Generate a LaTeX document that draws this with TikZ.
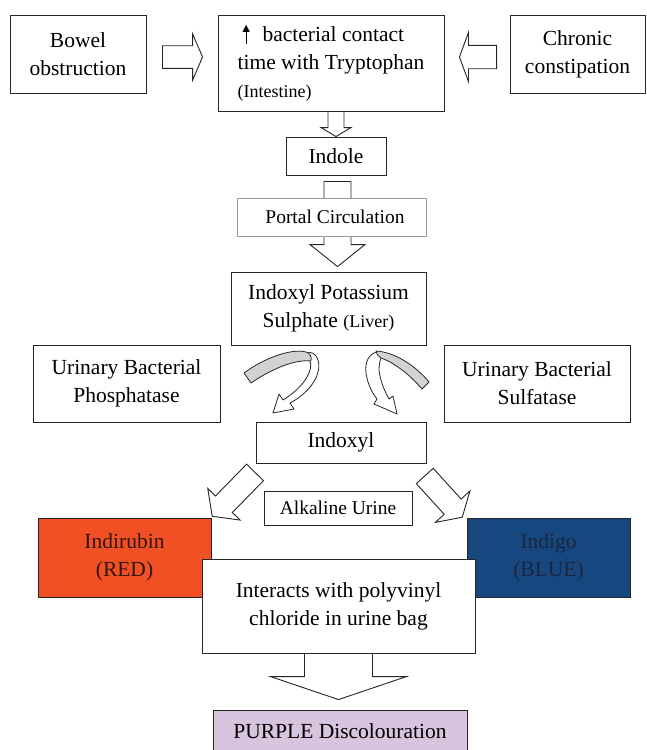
\documentclass[tikz,border=0pt]{standalone}
\usepackage{fontspec}
\setmainfont{Liberation Serif}
\usepackage{xcolor}
\usetikzlibrary{calc,arrows.meta}

\definecolor{redbox}{RGB}{240,80,35}
\definecolor{redtext}{RGB}{50,22,12}
\definecolor{bluebox}{RGB}{23,71,127}
\definecolor{bluetext}{RGB}{28,38,62}
\definecolor{purplebox}{RGB}{216,196,222}
\definecolor{bandgray}{RGB}{210,210,210}

\newcommand{\notefont}{\fontsize{18}{22}\selectfont}
\newcommand{\portalfont}{\fontsize{19.5}{24}\selectfont}
\newcommand{\incarrow}{\tikz[baseline=0pt]\draw[line width=1.2pt,-{Triangle[length=7pt,width=7pt]}] (0pt,-2pt) -- (0pt,17pt);}

\tikzset{
  box/.style={draw=black!85, line width=0.9pt, fill=white, inner sep=0pt, align=center,
    font=\fontsize{21.5}{28}\selectfont},
  ribbon/.style={draw=black!85, line width=0.8pt, line join=round},
  % hollow block arrow: shaft half width, head half width, head length
  fat/.style n args={3}{draw=black!85, fill=white, line width=0.9pt,
    to path={let \p1=(\tikztostart), \p2=(\tikztotarget),
      \p3=($(\p2)!#3pt!(\p1)$) in
      ($(\p1)!#1pt!90:(\p2)$) -- ($(\p3)!#1pt!90:(\p2)$) -- ($(\p3)!#2pt!90:(\p2)$)
      -- (\p2) -- ($(\p3)!#2pt!-90:(\p2)$) -- ($(\p3)!#1pt!-90:(\p2)$)
      -- ($(\p1)!#1pt!-90:(\p2)$) -- cycle}}
}

\begin{document}
\begin{tikzpicture}[x=1pt,y=-1pt]
  \useasboundingbox (0,0) rectangle (646,750);

  % Top row
  \node[box, minimum width=136, minimum height=78] (bowel) at (78,54) {Bowel\\obstruction};
  \node[box, minimum width=226, minimum height=96, align=left] (contact) at (331,63)
    {\hspace*{5pt}\incarrow\hspace{13pt}bacterial contact\\time with Tryptophan\\{\notefont (Intestine)}};
  \node[box, minimum width=135, minimum height=78] (chronic) at (577.5,54) {Chronic\\constipation};

  \draw[fat={11.3}{23.3}{10}] ($(bowel.east)+(16,3)$) to ($(contact.west)+(-15,-6)$);
  \draw[fat={11.7}{24.5}{9}] ($(chronic.west)+(-13,3)$) to ($(contact.east)+(15,-6)$);

  % Intestine to liver
  \node[box, minimum width=100, minimum height=38] (indole) at (336,156) {Indole};
  \draw[fat={8}{15}{9}] (contact.south -| indole.north) to (indole.north);
  \node[box, minimum width=195, minimum height=73] (ips) at (328.5,308.5)
    {Indoxyl Potassium\\Sulphate {\notefont (Liver)}};
  \draw[fat={13.5}{27.5}{22}] ($(indole.south)+(1.5,6)$) to ($(ips.north -| indole.south)+(1.5,-5)$);
  \node[box, draw=black!40, line width=0.7pt, minimum width=189, minimum height=38, font=\portalfont]
    (portal) at (331.5,217) {\hspace*{7pt}Portal Circulation};

  % Enzymes
  \node[box, minimum width=187, minimum height=77] (phos) at (126.5,383.5) {Urinary Bacterial\\Phosphatase};
  \node[box, minimum width=186, minimum height=77] (sulf) at (537,383.5) {Urinary Bacterial\\Sulfatase};
  \node[box, minimum width=170, minimum height=41] (indoxyl) at (341,442.5) {Indoxyl};

  % Curved ribbon arrows
  \draw[ribbon, fill=white] (307,353) .. controls (316,350) and (321,362) .. (318,372)
    .. controls (315,385) and (302,397) .. (290,403) -- (294,409) -- (273,413) -- (279,394) -- (283,400)
    .. controls (296,392) and (307,381) .. (310,370) .. controls (311,366) and (311,363) .. (310,361) -- cycle;
  \draw[ribbon, fill=bandgray] (244,373) .. controls (264,358) and (292,348) .. (306,352)
    .. controls (310,353) and (312,357) .. (311,361) .. controls (294,359) and (270,370) .. (251,383) -- cycle;
  \draw[ribbon, fill=white] (377,352) .. controls (366,354) and (364,368) .. (367,378)
    .. controls (369,387) and (373,394) .. (377,399) -- (374,404) -- (397,414) -- (393,396) -- (389,399)
    .. controls (384,390) and (380,380) .. (379,370) .. controls (379,365) and (380,361) .. (381,358) -- cycle;
  \draw[ribbon, fill=bandgray] (376,351) .. controls (394,352) and (415,365) .. (429,382) -- (422,389)
    .. controls (410,375) and (395,363) .. (381,358) .. controls (379,357) and (377,355) .. (376,351) -- cycle;

  % Urine
  \node[box, minimum width=148, minimum height=34, font=\portalfont] (alkaline) at (338,508) {Alkaline Urine};
  \node[box, fill=redbox, text=redtext, minimum width=173, minimum height=79] (indirubin) at (124.5,557.5)
    {Indirubin\\(RED)};
  \node[box, fill=bluebox, text=bluetext, minimum width=163, minimum height=79] (indigo) at (548.5,557.5)
    {Indigo\\(BLUE)};
  \draw[fat={11.8}{22.6}{16.8}] ($(indoxyl.south west)+(-0.5,9)$) to ($(indirubin.north east)+(0.7,-1.3)$);
  \draw[fat={11.4}{23.4}{14.3}] ($(indoxyl.south east)+(-1.7,12.5)$) to ($(indigo.north west)+(-4.3,-0.3)$);

  \node[box, minimum width=273, minimum height=94] (interacts) at (338.5,606)
    {Interacts with polyvinyl\\chloride in urine bag};
  \node[box, fill=purplebox, minimum width=254, minimum height=42] (purple) at (340,731) {PURPLE Discolouration};
  \draw[fat={34}{68}{23}] (interacts.south) to ($(purple.north)+(-1.5,-10)$);
\end{tikzpicture}
\end{document}
